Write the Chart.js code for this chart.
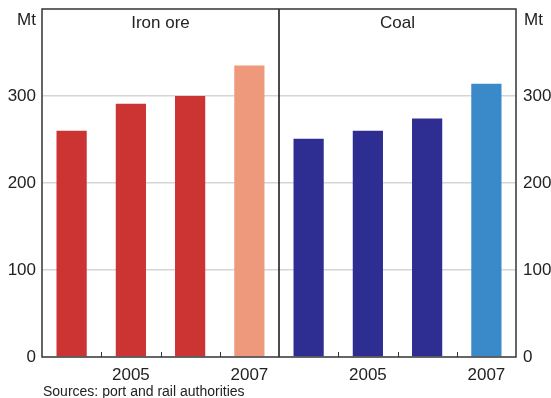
<!DOCTYPE html>
<html>
<head>
<meta charset="utf-8">
<script src="https://cdn.jsdelivr.net/npm/chart.js@4"></script>
<style>
  body { margin: 0; background: #fff; }
  #wrap { width: 551px; height: 398px; position: relative; }
</style>
</head>
<body>
<div id="wrap"><canvas id="exportsChart"></canvas></div>
<script>
const years = ['2004', '2005', '2006', '2007'];
const tickLabels = ['', '2005', '', '2007'];
const panels = ['Iron ore', 'Coal'];
const ironOre = [260, 291, 300, 335];
const coal = [251, 260, 274, 314];
const ironColors = ['#cc3333', '#cc3333', '#cc3333', '#ee997c'];
const coalColors = ['#2e2e92', '#2e2e92', '#2e2e92', '#3a89c9'];
const yTicks = [0, 100, 200, 300, 400];
const unitLabel = 'Mt';
const sourceNote = 'Sources: port and rail authorities';

const FONT = '"Liberation Sans", Arial, sans-serif';
const TEXT = '#222';

// frame, panel divider, small x ticks and extra text
const panelDecor = {
    id: 'panelDecor',
    afterDatasetsDraw(chart) {
        const { ctx, chartArea: a, scales } = chart;
        const x = scales.x;
        const n = years.length;
        ctx.save();

        // small ticks between years (pointing up)
        ctx.strokeStyle = '#333';
        ctx.lineWidth = 1;
        for (let i = 0; i < n * 2 - 1; i++) {
            if (i === n - 1) continue;
            const px = Math.round((x.getPixelForValue(i) + x.getPixelForValue(i + 1)) / 2) + 0.5;
            ctx.beginPath();
            ctx.moveTo(px, a.bottom);
            ctx.lineTo(px, a.bottom - 5);
            ctx.stroke();
        }

        // divider between the two panels
        const mid = (x.getPixelForValue(n - 1) + x.getPixelForValue(n)) / 2;
        ctx.strokeStyle = '#111';
        ctx.lineWidth = 1.5;
        ctx.beginPath();
        ctx.moveTo(mid, a.top);
        ctx.lineTo(mid, a.bottom);
        ctx.stroke();

        // frame
        ctx.strokeStyle = '#333';
        ctx.lineWidth = 1.5;
        ctx.strokeRect(a.left, a.top, a.right - a.left, a.bottom - a.top);

        // panel titles
        ctx.fillStyle = TEXT;
        ctx.font = '17px ' + FONT;
        ctx.textAlign = 'center';
        ctx.textBaseline = 'middle';
        ctx.fillText(panels[0], (a.left + mid) / 2, 23);
        ctx.fillText(panels[1], (mid + a.right) / 2, 23);

        // units
        ctx.textAlign = 'right';
        ctx.fillText(unitLabel, a.left - 6, 20);
        ctx.textAlign = 'left';
        ctx.fillText(unitLabel, a.right + 8, 20);

        // sources
        ctx.font = '14px ' + FONT;
        ctx.textBaseline = 'alphabetic';
        ctx.fillText(sourceNote, a.left + 1, 396);
        ctx.restore();
    }
};

// keep the axes from reserving room for half-labels
const noPad = s => { s.paddingTop = 0; s.paddingBottom = 0; s.paddingLeft = 0; s.paddingRight = 0; };

const ctx = document.getElementById('exportsChart').getContext('2d');
const exportsChart = new Chart(ctx, {
    type: 'bar',
    data: {
        labels: years.concat(years),
        datasets: [{
            data: ironOre.concat(coal),
            backgroundColor: ironColors.concat(coalColors),
            borderWidth: 0,
            barPercentage: 0.51,
            categoryPercentage: 1.0
        }]
    },
    options: {
        responsive: true,
        maintainAspectRatio: false,
        animation: false,
        layout: { padding: { top: 9, left: 0, right: 0, bottom: 0 } },
        plugins: {
            legend: { display: false },
            tooltip: { enabled: false },
            title: { display: false }
        },
        scales: {
            x: {
                offset: true,
                grid: { display: false, drawTicks: false },
                border: { display: false },
                ticks: {
                    color: TEXT,
                    font: { family: FONT, size: 17 },
                    padding: 8,
                    maxRotation: 0,
                    autoSkip: false,
                    callback: (v, i) => tickLabels[i % tickLabels.length]
                },
                afterFit: s => { s.height = 41; noPad(s); }
            },
            y: {
                position: 'left',
                min: 0,
                max: 400,
                afterBuildTicks: s => { s.ticks = yTicks.map(v => ({ value: v })); },
                grid: {
                    drawTicks: false,
                    lineWidth: 1.5,
                    color: c => (c.tick && c.tick.value % 400 === 0) ? 'rgba(0,0,0,0)' : '#d3d5d9'
                },
                border: { display: false },
                ticks: {
                    color: TEXT,
                    font: { family: FONT, size: 17 },
                    padding: 6,
                    callback: v => v === 400 ? '' : v
                },
                afterFit: s => { s.width = 42; noPad(s); }
            },
            y2: {
                position: 'right',
                min: 0,
                max: 400,
                afterBuildTicks: s => { s.ticks = yTicks.map(v => ({ value: v })); },
                grid: { display: false, drawTicks: false },
                border: { display: false },
                ticks: {
                    color: TEXT,
                    font: { family: FONT, size: 17 },
                    padding: 7,
                    callback: v => v === 400 ? '' : v
                },
                afterFit: s => { s.width = 35; noPad(s); }
            }
        }
    },
    plugins: [panelDecor]
});
</script>
</body>
</html>
